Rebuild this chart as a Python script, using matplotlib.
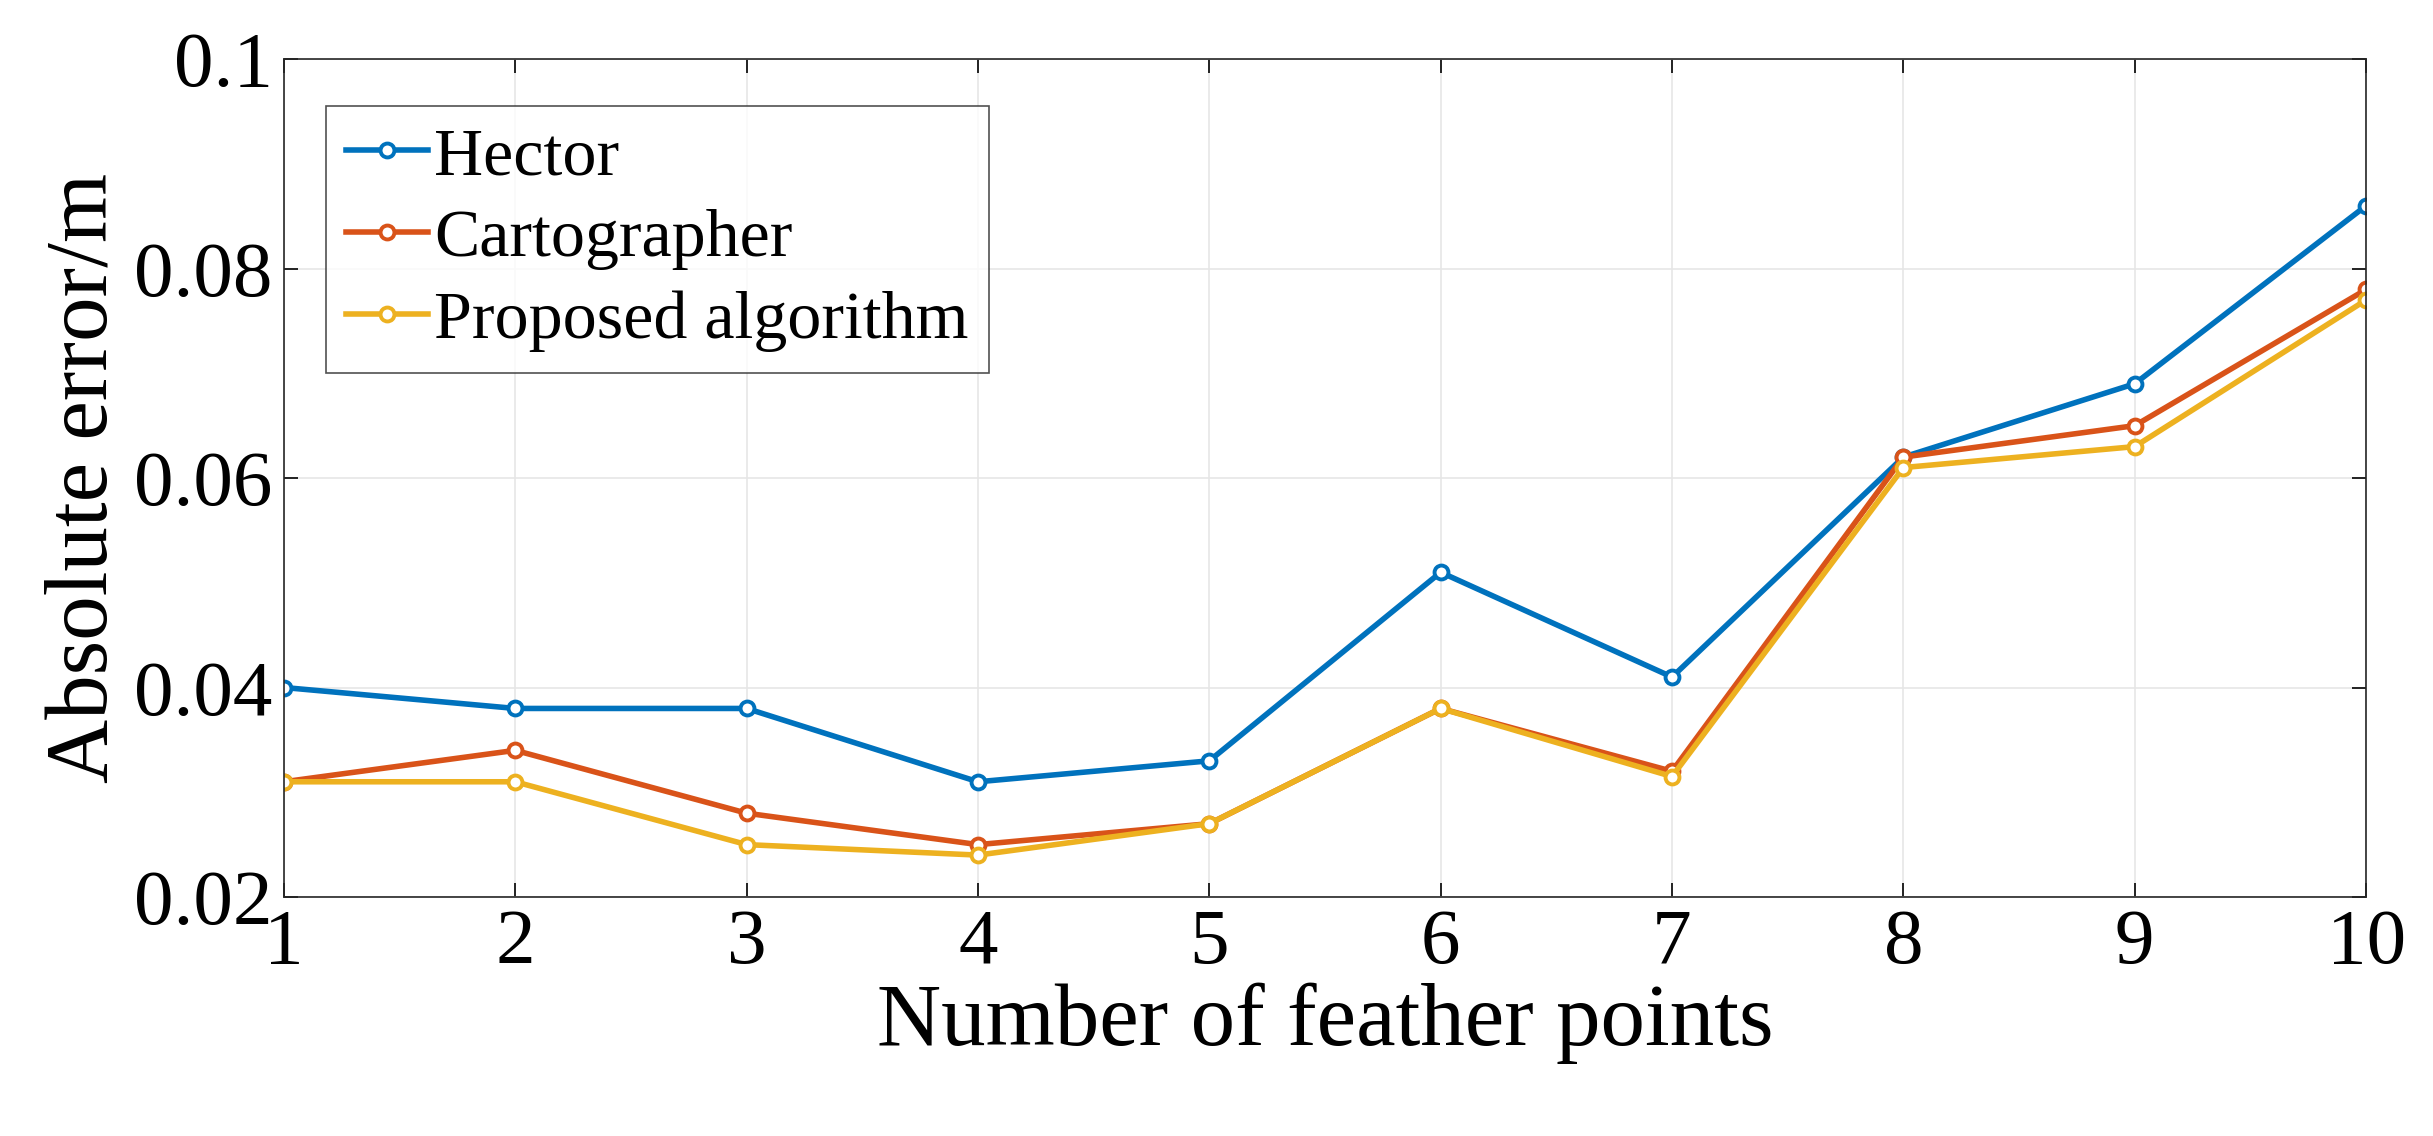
import matplotlib.pyplot as plt

plt.rcParams['font.family'] = ['Liberation Serif', 'DejaVu Serif']

points = [1, 2, 3, 4, 5, 6, 7, 8, 9, 10]
hector = [0.040, 0.038, 0.038, 0.031, 0.033, 0.051, 0.041, 0.062, 0.069, 0.086]
cartographer = [0.031, 0.034, 0.028, 0.025, 0.027, 0.038, 0.032, 0.062, 0.065, 0.078]
proposed = [0.031, 0.031, 0.025, 0.024, 0.027, 0.038, 0.0315, 0.061, 0.063, 0.077]

fig = plt.figure(figsize=(24.33, 11.36), dpi=100)
ax = fig.add_axes([0.1167, 0.2104, 0.8558, 0.7376])

style = dict(marker='o', markersize=10, markerfacecolor='white', markeredgewidth=2.8, linewidth=4)
ax.plot(points, hector, color='#0072BD', label='Hector', **style)
ax.plot(points, cartographer, color='#D95319', label='Cartographer', **style)
ax.plot(points, proposed, color='#EDB120', label='Proposed algorithm', **style)

ax.set_xlim(1, 10)
ax.set_ylim(0.02, 0.1)
ax.set_xticks(points)
ax.set_yticks([0.02, 0.04, 0.06, 0.08, 0.1])
ax.set_yticklabels(['0.02', '0.04', '0.06', '0.08', '0.1'])
ax.tick_params(labelsize=57, direction='in', length=10, width=1.2, top=True, right=True, pad=8)
ax.grid(True, color='#e6e6e6', linewidth=1.2)
for s in ax.spines.values():
    s.set_color('#262626')
    s.set_linewidth(1.2)

ax.set_xlabel('Number of feather points', fontsize=64, labelpad=2)
ax.set_ylabel('Absolute error/m', fontsize=64, labelpad=6)

leg = ax.legend(loc='upper left', fontsize=49, fancybox=False, edgecolor='#262626',
                handlelength=1.2, handletextpad=0.1, borderpad=0.3, labelspacing=0.3,
                borderaxespad=0, bbox_to_anchor=(0.02, 0.944))
leg.get_frame().set_linewidth(1.2)

fig.savefig('out.png', dpi=100, facecolor='white')
